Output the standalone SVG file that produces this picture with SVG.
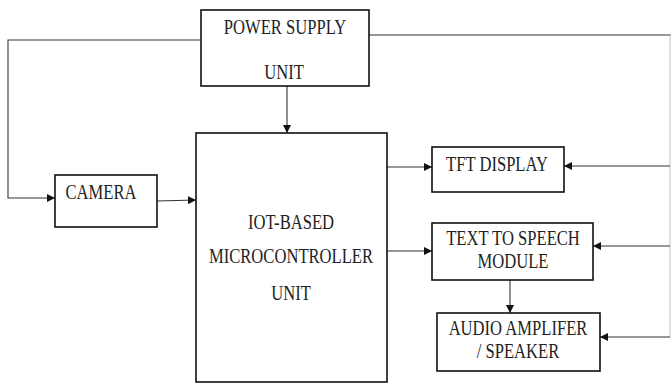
<svg xmlns="http://www.w3.org/2000/svg" width="671" height="383" viewBox="0 0 671 383">
  <style>
    .box { fill: #ffffff; stroke: #111111; stroke-width: 1.6; }
    .wire { fill: none; stroke: #333333; stroke-width: 1.1; }
    .edge { fill: none; stroke: #cfcfcf; stroke-width: 1.2; }
    .lbl { font-family: "Liberation Serif", "Times New Roman", serif; font-size: 16.6px; fill: #222222; text-anchor: middle; }
  </style>
  <defs>
    <marker id="arrow" viewBox="0 0 10 10" refX="10" refY="5" markerWidth="8" markerHeight="8" markerUnits="userSpaceOnUse" orient="auto">
      <path d="M0,0 L10,5 L0,10 Z" fill="#111111"/>
    </marker>
  </defs>

  <g id="connectors">
    <!-- power rail to camera -->
    <polyline class="wire" points="201,40 8,40 8,198 55,198" marker-end="url(#arrow)"/>
    <!-- power rail to right-hand modules -->
    <line class="wire" x1="369" y1="35" x2="671" y2="35"/>
    <line class="edge" x1="670" y1="35" x2="670" y2="337"/>
    <line class="wire" x1="670" y1="166" x2="564" y2="166" marker-end="url(#arrow)"/>
    <line class="wire" x1="670" y1="246" x2="593" y2="246" marker-end="url(#arrow)"/>
    <line class="wire" x1="670" y1="337" x2="600" y2="337" marker-end="url(#arrow)"/>
    <!-- power to MCU -->
    <line class="wire" x1="287" y1="86" x2="287" y2="133" marker-end="url(#arrow)"/>
    <!-- camera to MCU -->
    <line class="wire" x1="157" y1="201" x2="196" y2="200" marker-end="url(#arrow)"/>
    <!-- MCU outputs -->
    <line class="wire" x1="387" y1="167" x2="432" y2="167" marker-end="url(#arrow)"/>
    <line class="wire" x1="387" y1="251" x2="432" y2="251" marker-end="url(#arrow)"/>
    <!-- TTS to amplifier -->
    <line class="wire" x1="510" y1="280" x2="510" y2="313" marker-end="url(#arrow)"/>
  </g>

  <g id="power">
    <rect class="box" x="201" y="10" width="168" height="76"/>
    <text class="lbl" transform="translate(285,34) scale(1,1.2)">POWER SUPPLY</text>
    <text class="lbl" transform="translate(284,79) scale(1,1.2)">UNIT</text>
  </g>

  <g id="camera">
    <rect class="box" x="55" y="175" width="102" height="52"/>
    <text class="lbl" transform="translate(101,199) scale(1,1.2)">CAMERA</text>
  </g>

  <g id="mcu">
    <rect class="box" x="196" y="133" width="191" height="249"/>
    <text class="lbl" transform="translate(291,229) scale(1,1.2)">IOT-BASED</text>
    <text class="lbl" transform="translate(291,263) scale(1,1.2)">MICROCONTROLLER</text>
    <text class="lbl" transform="translate(291,300) scale(1,1.2)">UNIT</text>
  </g>

  <g id="tft">
    <rect class="box" x="432" y="147" width="132" height="45"/>
    <text class="lbl" transform="translate(497,171) scale(1,1.2)">TFT DISPLAY</text>
  </g>

  <g id="tts">
    <rect class="box" x="432" y="223" width="161" height="57"/>
    <text class="lbl" transform="translate(513,245) scale(1,1.2)">TEXT TO SPEECH</text>
    <text class="lbl" transform="translate(513,268) scale(1,1.2)">MODULE</text>
  </g>

  <g id="amplifier">
    <rect class="box" x="437" y="313" width="163" height="58"/>
    <text class="lbl" transform="translate(518,335) scale(1,1.2)">AUDIO AMPLIFER</text>
    <text class="lbl" transform="translate(518,358) scale(1,1.2)">/ SPEAKER</text>
  </g>
</svg>
